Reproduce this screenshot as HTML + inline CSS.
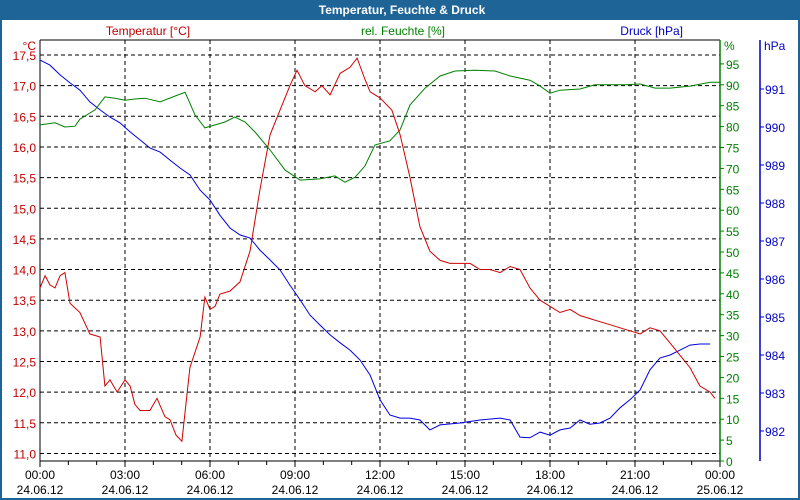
<!DOCTYPE html>
<html><head><meta charset="utf-8"><style>
body{margin:0;background:#fff}
#wrap{position:relative;width:800px;height:500px;overflow:hidden;background:#fff;box-sizing:border-box;border:2px solid #1e6497;border-top:none}
#titlebar{position:absolute;left:0;top:0;width:800px;height:20px;background:#1e6497;color:#fff;font:bold 12px "Liberation Sans",sans-serif;text-align:center;line-height:20px}
svg text{font-family:"Liberation Sans",sans-serif;font-size:12px}
</style></head><body>
<div id="wrap">
<div id="titlebar">Temperatur, Feuchte &amp; Druck</div>
<svg id="chart" width="800" height="500" style="position:absolute;left:-2px;top:0"></svg>
</div>
<script>
const tempTicks=[11.0,11.5,12.0,12.5,13.0,13.5,14.0,14.5,15.0,15.5,16.0,16.5,17.0,17.5];
const humTicks=[0,5,10,15,20,25,30,35,40,45,50,55,60,65,70,75,80,85,90,95];
const presTicks=[982,983,984,985,986,987,988,989,990,991];
const timeLabels=["00:00","03:00","06:00","09:00","12:00","15:00","18:00","21:00","00:00"];
const dateLabels=["24.06.12","24.06.12","24.06.12","24.06.12","24.06.12","24.06.12","24.06.12","24.06.12","25.06.12"];
const tempHours=[0,.18,.35,.53,.71,.88,1.06,1.41,1.76,2.12,2.29,2.47,2.72,3.0,3.18,3.35,3.53,3.88,4.13,4.41,4.59,4.8,5.01,5.29,5.65,5.82,6.0,6.18,6.35,6.71,7.06,7.41,7.76,8.12,8.47,8.82,9.07,9.35,9.71,9.95,10.24,10.59,10.94,11.19,11.47,11.65,12.0,12.42,12.71,13.06,13.41,13.76,14.12,14.47,14.82,15.18,15.53,15.88,16.24,16.59,16.94,17.29,17.65,18.0,18.35,18.71,19.06,19.41,19.76,20.12,20.47,20.82,21.18,21.53,21.88,22.24,22.59,22.94,23.29,23.65,23.82];
const tempValues=[13.7,13.9,13.75,13.7,13.9,13.95,13.45,13.3,12.95,12.9,12.1,12.2,12.0,12.2,12.1,11.8,11.7,11.7,11.9,11.6,11.55,11.3,11.2,12.4,12.9,13.55,13.35,13.4,13.6,13.65,13.8,14.3,15.3,16.2,16.6,17.0,17.25,17.0,16.9,17.0,16.85,17.2,17.3,17.45,17.1,16.9,16.8,16.6,16.2,15.5,14.7,14.3,14.15,14.1,14.1,14.1,14.0,14.0,13.95,14.05,14.0,13.7,13.5,13.4,13.3,13.35,13.25,13.2,13.15,13.1,13.05,13.0,12.95,13.05,13.0,12.8,12.6,12.4,12.1,12.0,11.9];
const humHours=[0,.53,.88,1.24,1.41,1.94,2.29,2.65,3.0,3.35,3.71,4.24,4.76,5.12,5.47,5.82,6.18,6.53,6.88,7.24,7.59,8.12,8.65,9.18,9.88,10.41,10.76,11.12,11.47,11.82,12.35,12.71,13.06,13.59,14.12,14.65,15.35,16.06,16.59,17.29,17.65,18.0,18.35,19.06,19.59,20.12,20.65,21.18,21.71,22.24,22.94,23.65,24];
const humValues=[80.4,80.9,79.9,80.1,81.8,84.0,87.1,86.8,86.3,86.6,86.8,85.9,87.3,88.2,82.8,79.7,80.4,81.1,82.3,81.1,78.7,74.4,69.6,67.2,67.5,68.2,66.7,67.9,70.6,75.6,76.6,79.2,85.2,89.2,92.1,93.3,93.5,93.3,92.1,91.1,89.7,88.0,88.7,89.0,90.0,90.0,90.0,90.2,89.2,89.2,89.7,90.6,90.6];
const presHours=[0,.35,.71,1.06,1.41,1.76,2.12,2.47,2.82,3.18,3.53,3.88,4.24,4.59,4.94,5.29,5.65,6.0,6.35,6.71,7.06,7.41,7.76,8.12,8.47,8.82,9.18,9.53,9.88,10.24,10.59,10.94,11.29,11.65,12.0,12.35,12.71,13.06,13.41,13.76,14.12,14.82,15.53,16.24,16.59,16.94,17.29,17.65,18.0,18.35,18.71,19.06,19.41,19.76,20.12,20.47,20.82,21.18,21.53,21.88,22.24,22.59,22.94,23.29,23.65];
const presValues=[991.76,991.63,991.37,991.16,990.97,990.66,990.45,990.26,990.11,989.87,989.66,989.45,989.34,989.13,988.92,988.74,988.34,988.08,987.68,987.34,987.16,987.08,986.76,986.5,986.24,985.84,985.45,985.05,984.79,984.53,984.32,984.13,983.87,983.47,982.82,982.42,982.34,982.34,982.29,982.03,982.16,982.21,982.29,982.34,982.29,981.84,981.82,981.97,981.89,982.03,982.08,982.29,982.18,982.21,982.34,982.61,982.82,983.08,983.61,983.92,984.0,984.13,984.26,984.29,984.29];

const L=40,R=720,T=40,B=461;
const xS=h=>L+h*(R-L)/24;
const yT=v=>55+(17.5-v)*61.3;
const yH=v=>461-v*4.18;
const yP=v=>431-(v-982)*38;
const svg=document.getElementById('chart');
const NS='http://www.w3.org/2000/svg';
function mk(tag,at){const e=document.createElementNS(NS,tag);for(const k in at)e.setAttribute(k,at[k]);svg.appendChild(e);return e;}
function txt(s,x,y,fill,anchor){const e=mk('text',{x:x,y:y,fill:fill,'text-anchor':anchor||'start'});e.textContent=s;return e;}

tempTicks.forEach(v=>{
 const g=mk('line',{x1:L,x2:R,y1:yT(v),y2:yT(v),stroke:'#000','stroke-dasharray':'4,3','stroke-width':1});
 
 
 const t=txt(v.toFixed(1).replace('.',','),36,yT(v)+5,'#c00000','end');
 
 
});
timeLabels.forEach((s,i)=>{
 const x=xS(i*3);
 if(i>0&&i<8){const g=mk('line',{x1:x,x2:x,y1:T,y2:B,stroke:'#000','stroke-dasharray':'4,3'});
 
 }
 const a=txt(s,x,479,'#000','middle');
 
 
 const d=txt(dateLabels[i],x,494,'#000','middle');
 
 
});
for(let h=0;h<=24;h++){const x=xS(h);mk('line',{x1:x,x2:x,y1:B,y2:B+(h%3===0?6:4),stroke:'#000'});}
mk('line',{x1:L,x2:R,y1:T,y2:T,stroke:'#000'});
mk('line',{x1:L,x2:R,y1:B,y2:B,stroke:'#000'});
mk('line',{x1:L,x2:L,y1:T,y2:B,stroke:'#000'});
mk('line',{x1:R,x2:R,y1:T,y2:B,stroke:'#008000','stroke-width':1.5});
humTicks.forEach(v=>{mk('line',{x1:R,x2:R+4,y1:yH(v),y2:yH(v),stroke:'#008000'});
 const t=txt(String(v),R+6,yH(v)+5,'#008000');
 
 });
mk('line',{x1:760,x2:760,y1:T,y2:B,stroke:'#0000c0','stroke-width':1.5});
presTicks.forEach(v=>{mk('line',{x1:760,x2:764,y1:yP(v),y2:yP(v),stroke:'#0000c0'});
 const t=txt(String(v),765,yP(v)+5,'#0000c0');
 
 });
[['°C',36,50,'#c00000','end','temp-unit'],['%',724,50,'#008000','start','humidity-unit'],['hPa',764,50,'#0000c0','start','pressure-unit'],
 ['Temperatur [°C]',148,35,'#c00000','middle','temp-axis-title'],['rel. Feuchte [%]',403,35,'#008000','middle','humidity-axis-title'],['Druck [hPa]',683,35,'#0000c0','end','pressure-axis-title']].forEach(a=>{
 const t=txt(a[0],a[1],a[2],a[3],a[4]);
 
 });
function line(hs,vs,yf,col,name){
 const p=mk('polyline',{points:hs.map((h,i)=>xS(h).toFixed(1)+','+yf(vs[i]).toFixed(1)).join(' '),fill:'none',stroke:col,'stroke-width':1});
 
 }
line(presHours,presValues,yP,'#0000e0','pressure-line');
line(humHours,humValues,yH,'#008000','humidity-line');
line(tempHours,tempValues,yT,'#d00000','temperature-line');
</script>
</body></html>
